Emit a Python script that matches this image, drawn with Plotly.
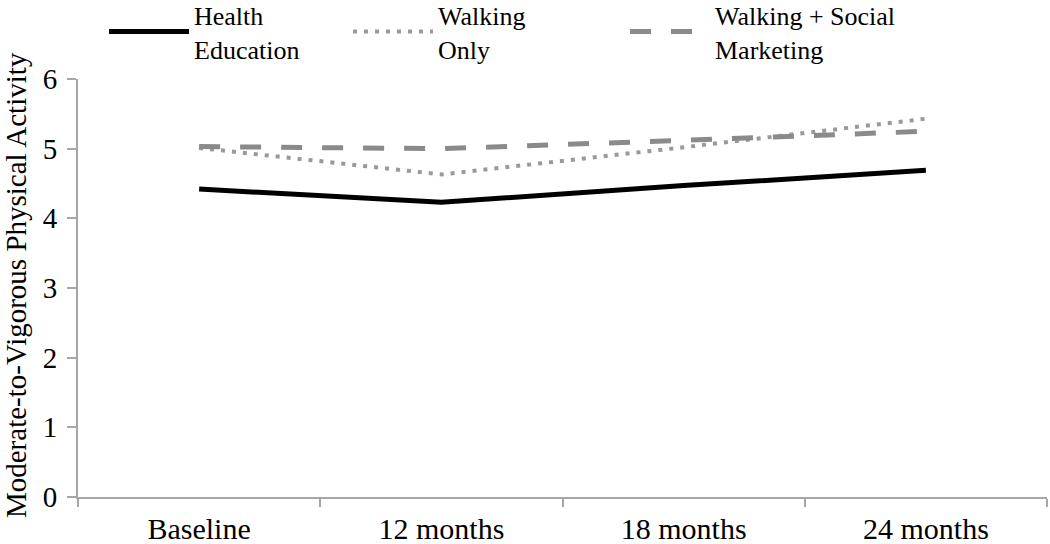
import plotly.graph_objects as go

categories = ["Baseline", "12 months", "18 months", "24 months"]
health_education = [4.42, 4.23, 4.47, 4.69]
walking_only = [5.01, 4.63, 5.02, 5.43]
walking_social = [5.03, 5.00, 5.12, 5.25]
y_ticks = [0, 1, 2, 3, 4, 5, 6]
y_title = "Moderate-to-Vigorous Physical Activity"

FONT = "Liberation Serif, Times New Roman, DejaVu Serif, serif"

fig = go.Figure()
fig.add_trace(go.Scatter(x=categories, y=health_education, mode="lines",
                         name="Health<br>Education", legend="legend",
                         line=dict(color="#000000", width=5)))
fig.add_trace(go.Scatter(x=categories, y=walking_only, mode="lines",
                         name="Walking<br>Only", legend="legend2",
                         line=dict(color="#999999", width=4, dash="4px,7px")))
fig.add_trace(go.Scatter(x=categories, y=walking_social, mode="lines",
                         name="Walking + Social<br>Marketing", legend="legend3",
                         line=dict(color="#8a8a8a", width=5, dash="21px,20px")))

fig.add_annotation(text=y_title, xref="paper", yref="paper",
                   x=-0.064, y=0.507, xanchor="center", yanchor="middle",
                   textangle=-90, showarrow=False,
                   font=dict(family=FONT, size=29, color="#000000"))

legend_common = dict(orientation="h", xref="container", yref="paper",
                     y=1.21, xanchor="left", yanchor="top",
                     font=dict(family=FONT, size=26),
                     itemwidth=80, bgcolor="rgba(0,0,0,0)")

fig.update_layout(
    width=1050, height=544,
    margin=dict(l=78, r=3, t=79, b=47, autoexpand=False),
    paper_bgcolor="white", plot_bgcolor="white",
    font=dict(family=FONT, size=28, color="#000000"),
    showlegend=True,
    legend=dict(x=104 / 1050, **legend_common),
    legend2=dict(x=348 / 1050, **legend_common),
    legend3=dict(x=625 / 1050, **legend_common),
    xaxis=dict(type="category", range=[-0.5, 3.5],
               showline=True, linecolor="#a6a6a6", linewidth=2,
               ticks="outside", tickson="boundaries", ticklen=8,
               tickcolor="#a6a6a6", tickwidth=2,
               ticklabelstandoff=4,
               showgrid=False, zeroline=False,
               tickfont=dict(family=FONT, size=30)),
    yaxis=dict(range=[0, 6], tickvals=y_ticks,
               showline=True, linecolor="#a6a6a6", linewidth=2,
               ticks="outside", ticklen=9, tickcolor="#a6a6a6", tickwidth=2,
               ticklabelstandoff=4,
               showgrid=False, zeroline=False,
               tickfont=dict(family=FONT, size=29)),
)

fig.write_html("out.html", config={"displayModeBar": False},
               post_script="document.body.style.margin='0';")
